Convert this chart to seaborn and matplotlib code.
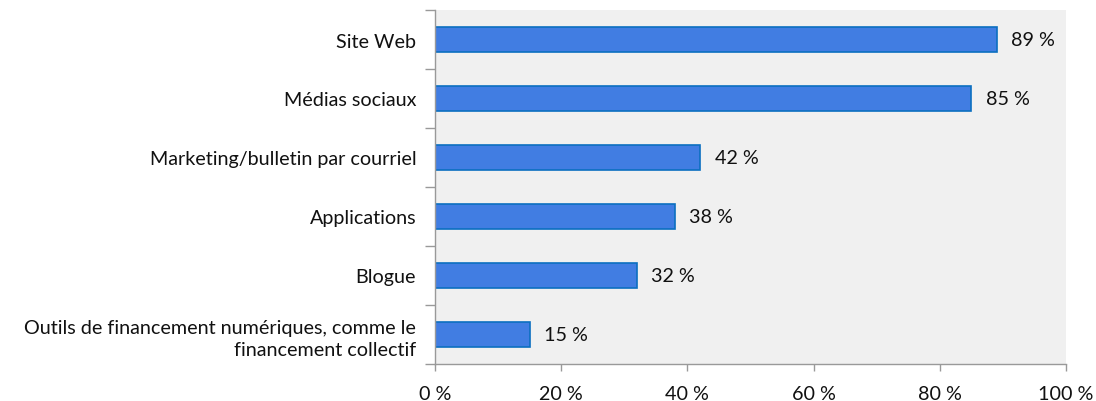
import matplotlib
matplotlib.use("Agg")
import matplotlib.pyplot as plt
import seaborn as sns
import pandas as pd
import numpy as np

categories = [
    "Site Web",
    "Médias sociaux",
    "Marketing/bulletin par courriel",
    "Applications",
    "Blogue",
    "Outils de financement numériques, comme le\nfinancement collectif",
]
values = [89, 85, 42, 38, 32, 15]
xticks = [0, 20, 40, 60, 80, 100]

sns.set_theme(style="white")
plt.rcParams["font.family"] = ["Lato", "DejaVu Sans"]
plt.rcParams["ytick.left"] = True
plt.rcParams["xtick.bottom"] = True

FS = 14.2
TXT = "#111111"

df = pd.DataFrame({"cat": categories, "val": values})

fig = plt.figure(figsize=(10.96, 4.02), dpi=100)
ax = fig.add_axes([435 / 1096, 1 - 365 / 402, (1066 - 435) / 1096, (365 - 11) / 402])
ax.set_facecolor("#f0f0f0")

sns.barplot(data=df, x="val", y="cat", ax=ax, color="#417de2", width=0.41,
            edgecolor="#0b6fc0", linewidth=1.2, saturation=1)

for i, v in enumerate(values):
    ax.text(v + 2.3, i, f"{v}\u00a0%", va="center", ha="left", fontsize=FS, color=TXT)

ax.set_xlim(0, 100)
ax.set_ylim(len(categories) - 0.5, -0.5)
ax.set_xticks(xticks)
ax.set_xticklabels([f"{t}\u00a0%" for t in xticks], fontsize=FS, color=TXT)
ax.set_yticks(np.arange(len(categories)))
ax.set_yticklabels(categories, fontsize=FS, color=TXT, linespacing=1.35)
ax.tick_params(axis="y", which="major", length=0, pad=13.5)
ax.set_yticks(np.arange(-0.5, len(categories)), minor=True)
ax.tick_params(axis="y", which="minor", left=True, length=7, width=1,
               color="#999999", direction="out")
ax.tick_params(axis="x", which="major", bottom=True, length=5, width=1,
               color="#999999", direction="out", pad=10)
ax.set_xlabel("")
ax.set_ylabel("")

for side in ["top", "right"]:
    ax.spines[side].set_visible(False)
for side in ["left", "bottom"]:
    ax.spines[side].set_color("#999999")
    ax.spines[side].set_linewidth(1)

fig.savefig("out.png", dpi=100, facecolor="white")
